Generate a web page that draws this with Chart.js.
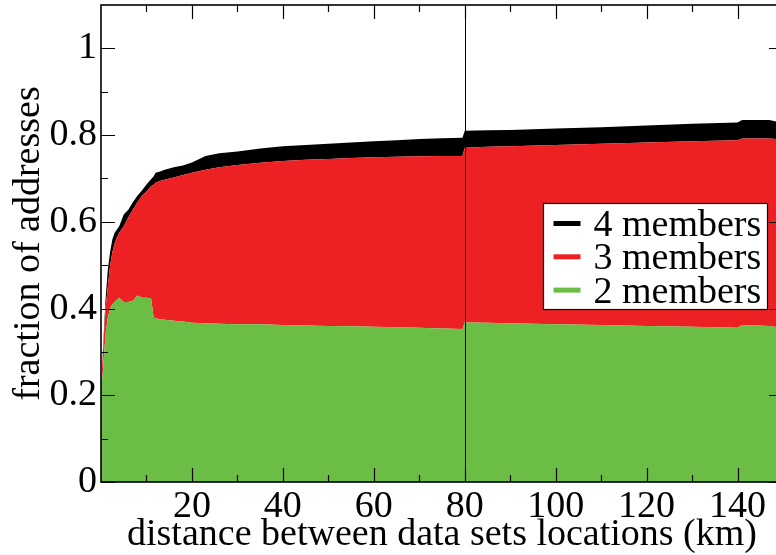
<!DOCTYPE html>
<html>
<head>
<meta charset="utf-8">
<script src="https://cdn.jsdelivr.net/npm/chart.js@4.4.0/dist/chart.umd.min.js"></script>
<style>
  html, body { margin: 0; padding: 0; background: #fff; overflow: hidden; }
  #wrap { width: 790px; height: 555px; }
</style>
</head>
<body>
<div id="wrap"><canvas id="chart"></canvas></div>
<script>
/* ── data: upper edge of each stacked band ── */
const distKm = [0, 0.5, 1, 1.5, 2, 2.5, 3, 3.5, 4, 5, 6, 7, 8, 9, 10, 11, 11.6, 12, 13, 14, 16, 18, 20, 23, 26, 30,
  35, 40, 45, 50, 55, 60, 65, 70, 75, 79.5, 80, 85, 90, 100, 110, 120, 130, 140, 141, 147, 150];

const twoMembers = [0.20, 0.27, 0.34, 0.38, 0.40, 0.41, 0.415, 0.42, 0.425, 0.415, 0.415, 0.418, 0.43, 0.425, 0.425, 0.424,
  0.378, 0.378, 0.375, 0.374, 0.372, 0.37, 0.367, 0.366, 0.365, 0.364,
  0.364, 0.362, 0.361, 0.36, 0.359, 0.358, 0.357, 0.356, 0.354, 0.353, 0.368,
  0.367, 0.366, 0.364, 0.362, 0.36, 0.358, 0.356, 0.362, 0.36, 0.355];

const threeMembers = [0.22, 0.31, 0.40, 0.45, 0.50, 0.53, 0.55, 0.563, 0.575, 0.59, 0.61, 0.628, 0.645, 0.66, 0.67, 0.682,
  0.686, 0.69, 0.694, 0.697, 0.702, 0.708, 0.713, 0.72, 0.726, 0.731,
  0.736, 0.74, 0.743, 0.745, 0.747, 0.749, 0.75, 0.751, 0.752, 0.752, 0.771,
  0.773, 0.774, 0.777, 0.78, 0.783, 0.786, 0.788, 0.792, 0.792, 0.79];

const fourMembers = [0.22, 0.32, 0.42, 0.49, 0.53, 0.56, 0.575, 0.582, 0.59, 0.617, 0.628, 0.645, 0.66, 0.672, 0.686, 0.698,
  0.705, 0.713, 0.716, 0.72, 0.726, 0.73, 0.737, 0.752, 0.758, 0.762,
  0.769, 0.774, 0.777, 0.78, 0.783, 0.786, 0.788, 0.791, 0.793, 0.794, 0.81,
  0.811, 0.812, 0.815, 0.818, 0.822, 0.826, 0.829, 0.835, 0.835, 0.828];

const xMajor = [20, 40, 60, 80, 100, 120, 140];
const xMinor = [10, 30, 50, 70, 90, 110, 130];
const yMajor = [0, 0.2, 0.4, 0.6, 0.8, 1];
const yMinor = [0.1, 0.3, 0.5, 0.7, 0.9];
const markerKm = 80;

const GREEN = '#6bbd45', RED = '#ed2024', BLACK = '#000000';
const FONT = '"Liberation Serif", "Times New Roman", Times, serif';
const FS = 38;

const pts = vals => distKm.map((x, i) => ({ x, y: vals[i] }));

// frame, inward tick marks and the 80 km marker line
const framePlugin = {
  id: 'frame',
  afterDatasetsDraw(chart) {
    const { ctx, chartArea: a, scales: { x, y } } = chart;
    ctx.save();
    ctx.strokeStyle = '#000';

    ctx.lineWidth = 1;
    const mx = Math.round(x.getPixelForValue(markerKm)) + 0.5;
    ctx.beginPath(); ctx.moveTo(mx, a.top); ctx.lineTo(mx, a.bottom); ctx.stroke();

    ctx.lineWidth = 1.2;
    ctx.beginPath();
    const xt = (vals, len) => vals.forEach(v => {
      const px = Math.round(x.getPixelForValue(v)) + 0.5;
      ctx.moveTo(px, a.bottom); ctx.lineTo(px, a.bottom - len);
      ctx.moveTo(px, a.top); ctx.lineTo(px, a.top + len);
    });
    const yt = (vals, len) => vals.forEach(v => {
      const py = Math.round(y.getPixelForValue(v)) + 0.5;
      ctx.moveTo(a.left, py); ctx.lineTo(a.left + len, py);
      ctx.moveTo(a.right, py); ctx.lineTo(a.right - len, py);
    });
    xt(xMajor, 14); xt(xMinor, 7);
    yt(yMajor, 14); yt(yMinor, 7);
    ctx.stroke();

    ctx.lineWidth = 1.6;
    ctx.strokeRect(a.left, a.top, a.right - a.left, a.bottom - a.top);
    ctx.restore();
  }
};

// boxed legend inside the plot, highest band first
const legendPlugin = {
  id: 'boxLegend',
  afterDraw(chart) {
    const { ctx } = chart;
    const box = { left: 543.5, top: 203.5, w: 224, h: 106 };
    ctx.save();
    ctx.fillStyle = '#fff';
    ctx.fillRect(box.left, box.top, box.w, box.h);
    ctx.strokeStyle = '#000';
    ctx.lineWidth = 1.2;
    ctx.strokeRect(box.left, box.top, box.w, box.h);
    ctx.font = FS + 'px ' + FONT;
    ctx.textBaseline = 'alphabetic';
    const sets = chart.data.datasets.slice().reverse();
    sets.forEach((ds, i) => {
      const base = box.top + 32.5 + i * 33.3;
      ctx.fillStyle = ds.backgroundColor;
      ctx.fillRect(box.left + 10, base - 15, 27, 5);
      ctx.fillStyle = '#000';
      ctx.fillText(ds.label, box.left + 50, base);
    });
    ctx.restore();
  }
};

// drop the label padding Chart.js reserves at the ends of each axis
const noEndPad = s => { s.paddingTop = 0; s.paddingBottom = 0; s.paddingLeft = 0; s.paddingRight = 0; };

function draw() {
  new Chart(document.getElementById('chart'), {
    type: 'line',
    data: {
      datasets: [
        { label: '2 members', data: pts(twoMembers), backgroundColor: GREEN, fill: 'origin' },
        { label: '3 members', data: pts(threeMembers), backgroundColor: RED, fill: '-1' },
        { label: '4 members', data: pts(fourMembers), backgroundColor: BLACK, fill: '-1' }
      ]
    },
    options: {
      responsive: true, maintainAspectRatio: false, animation: false,
      layout: { padding: { top: 5, right: 7, left: 0, bottom: 0 } },
      elements: { line: { borderWidth: 0, tension: 0 }, point: { radius: 0 } },
      plugins: { legend: { display: false }, tooltip: { enabled: false } },
      scales: {
        x: {
          type: 'linear', min: 0, max: 150,
          afterBuildTicks: s => { s.ticks = xMajor.map(v => ({ value: v })); },
          afterFit: s => { s.height = 73; noEndPad(s); },
          grid: { display: false, drawTicks: false },
          border: { display: false },
          ticks: { color: '#000', font: { family: FONT, size: FS }, padding: 2, maxRotation: 0, autoSkip: false },
          title: { display: true, text: 'distance between data sets locations (km)', color: '#000',
                   font: { family: FONT, size: FS, lineHeight: 1 }, padding: { top: 0, bottom: 1 } }
        },
        y: {
          min: 0, max: 1.1,
          afterBuildTicks: s => { s.ticks = yMajor.map(v => ({ value: v })); },
          afterFit: s => { s.width = 101; noEndPad(s); },
          grid: { display: false, drawTicks: false },
          border: { display: false },
          ticks: { color: '#000', font: { family: FONT, size: FS }, padding: 4, callback: v => String(v) },
          title: { display: true, text: 'fraction of addresses', color: '#000',
                   font: { family: FONT, size: FS, lineHeight: 1 }, padding: { top: 10, bottom: 0 } }
        }
      }
    },
    plugins: [framePlugin, legendPlugin]
  });
}

document.fonts.load(FS + 'px "Liberation Serif"').then(draw, draw);
</script>
</body>
</html>
